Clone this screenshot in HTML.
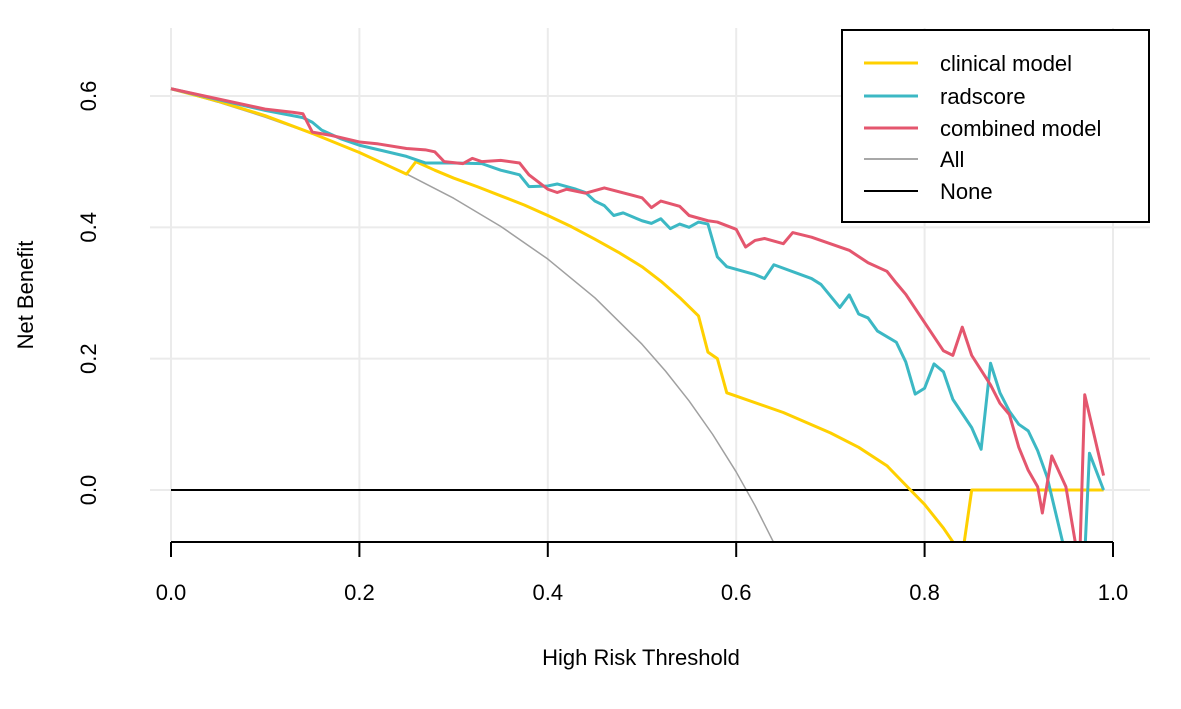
<!DOCTYPE html>
<html><head><meta charset="utf-8"><style>
body{margin:0;background:#fff;}
svg{display:block;font-family:"Liberation Sans",Arial,sans-serif;}
</style></head><body>
<svg id="c" width="1181" height="709">
<defs><clipPath id="clip"><rect x="150" y="28" width="1000" height="513"/></clipPath></defs>
<g id="grid"></g>
<g id="series" clip-path="url(#clip)"></g>
<g id="axes"></g>
<text x="641" y="665" font-size="22" text-anchor="middle" fill="#000">High Risk Threshold</text>
<text transform="translate(33,295) rotate(-90)" font-size="22" text-anchor="middle" fill="#000">Net Benefit</text>
<g>
<rect x="842" y="30" width="307" height="192" fill="#fff" stroke="#000" stroke-width="2"/>
<line x1="864" y1="63" x2="918" y2="63" stroke="#FFD000" stroke-width="3"/>
<text x="940" y="71" font-size="22">clinical model</text>
<line x1="864" y1="96" x2="918" y2="96" stroke="#3CB8C4" stroke-width="3"/>
<text x="940" y="104" font-size="22">radscore</text>
<line x1="864" y1="128" x2="918" y2="128" stroke="#E4566E" stroke-width="3"/>
<text x="940" y="136" font-size="22">combined model</text>
<line x1="864" y1="159" x2="918" y2="159" stroke="#A8A8A8" stroke-width="2"/>
<text x="940" y="167" font-size="22">All</text>
<line x1="864" y1="191" x2="918" y2="191" stroke="#000" stroke-width="2"/>
<text x="940" y="199" font-size="22">None</text>
</g>
</svg>
<script>
const xTicks=[0,0.2,0.4,0.6,0.8,1.0];
const yTicks=[0,0.2,0.4,0.6];
const allX=[0,0.05,0.1,0.15,0.2,0.25,0.3,0.35,0.4,0.45,0.5,0.525,0.55,0.575,0.6,0.62,0.64,0.66];
const allY=[0.611,0.5905,0.5678,0.5424,0.5138,0.4813,0.4443,0.4015,0.3517,0.2927,0.222,0.181,0.1356,0.0847,0.0275,-0.0237,-0.0806,-0.144];
const clinX=[0,0.05,0.1,0.15,0.2,0.25,0.26,0.28,0.3,0.325,0.35,0.375,0.4,0.425,0.45,0.475,0.5,0.52,0.54,0.56,0.57,0.58,0.59,0.6,0.65,0.7,0.73,0.76,0.785,0.8,0.82,0.84,0.85,0.99];
const clinY=[0.611,0.592,0.570,0.543,0.514,0.481,0.5,0.487,0.475,0.462,0.448,0.434,0.418,0.401,0.382,0.362,0.34,0.318,0.293,0.265,0.21,0.2,0.148,0.143,0.118,0.087,0.065,0.037,0,-0.022,-0.058,-0.1,0,0];
const radX=[0,0.1,0.14,0.15,0.16,0.18,0.2,0.25,0.27,0.3,0.33,0.35,0.37,0.38,0.4,0.41,0.43,0.44,0.45,0.46,0.47,0.48,0.5,0.51,0.52,0.53,0.54,0.55,0.56,0.57,0.58,0.59,0.62,0.63,0.64,0.68,0.69,0.71,0.72,0.73,0.74,0.75,0.77,0.78,0.79,0.8,0.81,0.82,0.83,0.85,0.86,0.87,0.88,0.89,0.9,0.91,0.92,0.93,0.95,0.96,0.97,0.975,0.99];
const radY=[0.611,0.578,0.567,0.56,0.548,0.535,0.525,0.508,0.498,0.498,0.497,0.487,0.48,0.462,0.463,0.466,0.458,0.453,0.44,0.433,0.418,0.422,0.41,0.406,0.413,0.398,0.405,0.4,0.408,0.405,0.355,0.34,0.328,0.322,0.343,0.322,0.313,0.278,0.297,0.268,0.262,0.242,0.225,0.195,0.146,0.155,0.192,0.18,0.138,0.095,0.062,0.193,0.148,0.12,0.1,0.09,0.06,0.02,-0.1,-0.1,-0.1,0.056,0];
const combX=[0,0.1,0.13,0.14,0.15,0.17,0.2,0.22,0.25,0.27,0.28,0.29,0.31,0.32,0.33,0.35,0.37,0.38,0.4,0.41,0.42,0.44,0.46,0.5,0.51,0.52,0.54,0.55,0.57,0.58,0.6,0.61,0.62,0.63,0.65,0.66,0.68,0.72,0.74,0.76,0.77,0.78,0.8,0.82,0.83,0.84,0.85,0.87,0.88,0.89,0.9,0.91,0.92,0.925,0.935,0.95,0.96,0.965,0.97,0.99];
const combY=[0.611,0.58,0.575,0.573,0.545,0.54,0.53,0.527,0.52,0.518,0.515,0.5,0.497,0.505,0.5,0.502,0.498,0.48,0.458,0.453,0.458,0.452,0.46,0.445,0.43,0.44,0.432,0.418,0.41,0.408,0.397,0.37,0.38,0.383,0.375,0.392,0.385,0.365,0.346,0.333,0.315,0.298,0.255,0.212,0.205,0.248,0.205,0.16,0.132,0.115,0.065,0.03,0.005,-0.035,0.052,0.005,-0.08,-0.09,0.145,0.022];
const NS='http://www.w3.org/2000/svg';
const sx=v=>171+v*942, sy=v=>490-v*656.7;
function mk(parent,tag,attrs){const e=document.createElementNS(NS,tag);for(const k in attrs)e.setAttribute(k,attrs[k]);document.getElementById(parent).appendChild(e);return e;}
xTicks.forEach(t=>{
 const g=mk('grid','line',{x1:sx(t),x2:sx(t),y1:28,y2:541,stroke:'#ebebeb','stroke-width':2});
 
 
 const tk=mk('axes','line',{x1:sx(t),x2:sx(t),y1:542,y2:557,stroke:'#000','stroke-width':2});
 
 
 const lb=mk('axes','text',{x:sx(t),y:600,'font-size':22,'text-anchor':'middle'});
 lb.textContent=t.toFixed(1);
 
 
});
yTicks.forEach(t=>{
 const g=mk('grid','line',{x1:150,x2:1150,y1:sy(t),y2:sy(t),stroke:'#ebebeb','stroke-width':2});
 
 
 const lb=mk('axes','text',{transform:`translate(96,${sy(t)}) rotate(-90)`,'font-size':22,'text-anchor':'middle'});
 lb.textContent=t.toFixed(1);
 
 
});
const ax=mk('axes','line',{x1:sx(0),x2:sx(1),y1:542,y2:542,stroke:'#000','stroke-width':2});


function line(xs,ys,color,w,name){
 const p=mk('series','polyline',{points:xs.map((x,i)=>sx(x)+','+sy(ys[i])).join(' '),fill:'none',stroke:color,'stroke-width':w,'stroke-linejoin':'round'});
 
 
}
line(allX,allY,'#A0A0A0',1.5,'all-line');
const none=mk('series','line',{x1:sx(0),x2:sx(0.99),y1:sy(0),y2:sy(0),stroke:'#000','stroke-width':2});


line(clinX,clinY,'#FFD000',3,'clinical-model-line');
line(radX,radY,'#3CB8C4',3,'radscore-line');
line(combX,combY,'#E4566E',3,'combined-model-line');
</script>
</body></html>
